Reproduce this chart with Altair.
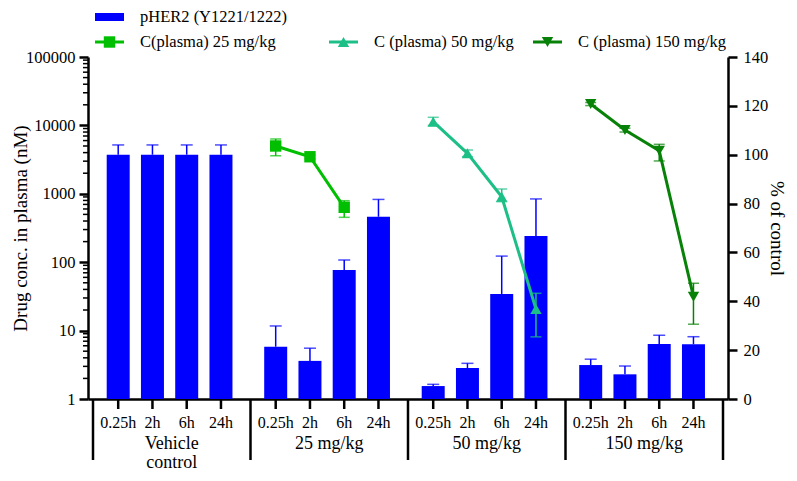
import altair as alt
import pandas as pd

FONT = "Liberation Serif"
W, H = 640, 342
BLUE = "#0000FF"

groups = ["Vehicle\ncontrol", "25 mg/kg", "50 mg/kg", "150 mg/kg"]
times = ["0.25h", "2h", "6h", "24h"]

# pHER2 (% of control), bars, upper SD
pher2_vehicle = [100, 100, 100, 100]
pher2_vehicle_err = [4, 4, 4, 4]
pher2_25 = [21.4, 15.6, 52.8, 74.6]
pher2_25_err = [8.5, 5.2, 4.1, 7.1]
pher2_50 = [5.3, 12.7, 43.0, 66.7]
pher2_50_err = [0.7, 1.9, 15.5, 15.2]
pher2_150 = [13.9, 10.1, 22.5, 22.4]
pher2_150_err = [2.4, 3.4, 3.6, 3.1]

# Plasma concentration (nM)
series_names = ["C(plasma) 25 mg/kg", "C (plasma) 50 mg/kg", "C (plasma) 150 mg/kg"]
series_colors = ["#00BF00", "#1CBF86", "#078107"]
series_shapes = ["square", "triangle-up", "triangle-down"]
conc_25 = [5000, 3480, 635]
conc_25_lo = [3600, 3250, 453]
conc_25_hi = [6330, 3700, 793]
conc_50 = [11330, 3910, 907, 20.7]
conc_50_lo = [10000, 3500, 767, 8.1]
conc_50_hi = [13130, 4370, 1175, 35.1]
conc_150 = [20550, 8570, 4270, 31.3]
conc_150_lo = [19500, 8000, 3020, 12.4]
conc_150_hi = [21600, 9100, 5290, 49.2]

log_major = [1, 10, 100, 1000, 10000, 100000]
log_minor = [k * 10 ** d for d in range(5) for k in range(2, 10)]
pct_ticks = [0, 20, 40, 60, 80, 100, 120, 140]

# ---- tables ----
bar_rows = []
for gi, (vals, errs) in enumerate([(pher2_vehicle, pher2_vehicle_err), (pher2_25, pher2_25_err),
                                   (pher2_50, pher2_50_err), (pher2_150, pher2_150_err)]):
    for ti, (v, e) in enumerate(zip(vals, errs)):
        bar_rows.append({"g": gi, "t": ti, "time": times[ti], "pct": v, "err": e})
bar_df = pd.DataFrame(bar_rows)

line_rows = []
for si, (vals, lo, hi) in enumerate([(conc_25, conc_25_lo, conc_25_hi), (conc_50, conc_50_lo, conc_50_hi),
                                     (conc_150, conc_150_lo, conc_150_hi)]):
    for ti, (v, l, h) in enumerate(zip(vals, lo, hi)):
        line_rows.append({"g": si + 1, "t": ti, "series": series_names[si], "conc": v, "lo": l, "hi": h})
line_df = pd.DataFrame(line_rows)

group_df = pd.DataFrame({"g": list(range(4)), "group": groups})
bound_df = pd.DataFrame({"b": list(range(5))})
minor_df = pd.DataFrame({"m": log_minor})

XPOS = "datum.g + 0.16 + 0.2175 * datum.t"


def xenc(field="xpos:Q"):
    return alt.X(field, scale=alt.Scale(domain=[0, 4], nice=False, zero=False),
                 axis=alt.Axis(labels=False, ticks=False, grid=False, title=None,
                               domainColor="black", domainWidth=2.5))


pct_scale = alt.Scale(domain=[0, 140], nice=False, zero=True)
conc_scale = alt.Scale(type="log", domain=[1, 100000], nice=False)

pct_axis = alt.Axis(orient="right", values=pct_ticks, tickSize=9, labelPadding=6, grid=False,
                    title="% of control", titleX=48, titleY=H / 2, titleBaseline="middle",
                    titleAngle=90, labelFontSize=16.5, titleFontSize=19)
conc_axis = alt.Axis(orient="left", values=log_major, format="d", tickSize=9, labelPadding=4,
                     grid=False, labelOverlap=False, title="Drug conc. in plasma (nM)",
                     titleX=-68, titleY=H / 2, titleBaseline="middle", titleAngle=270,
                     labelFontSize=16.5, titleFontSize=19)

# ---- bar group ----
bbase = alt.Chart(bar_df).transform_calculate(xpos=XPOS, top="datum.pct + datum.err")
bars = bbase.mark_bar(size=23, color=BLUE).encode(
    x=xenc(), y=alt.Y("pct:Q", scale=pct_scale, axis=pct_axis))
bar_err = bbase.mark_rule(color=BLUE, strokeWidth=1.5).encode(
    x=xenc(), y=alt.Y("pct:Q", scale=pct_scale), y2="top:Q")
bar_cap = bbase.mark_tick(color=BLUE, orient="horizontal", size=12, thickness=1.5).encode(
    x=xenc(), y=alt.Y("top:Q", scale=pct_scale))
xticks = bbase.mark_rule(color="black", strokeWidth=2.5).encode(
    x=xenc(), y=alt.value(H), y2=alt.value(H + 10))
xlabels = bbase.mark_text(font=FONT, fontSize=16, baseline="middle", align="center", color="black").encode(
    x=xenc(), y=alt.value(H + 24), text="time:N")
seps = alt.Chart(bound_df).mark_rule(color="black", strokeWidth=2.5).encode(
    x=xenc("b:Q"), y=alt.value(H), y2=alt.value(H + 61))
glabels = alt.Chart(group_df).transform_calculate(gx="datum.g + 0.5").mark_text(
    font=FONT, fontSize=18, baseline="top", align="center", lineBreak="\n", lineHeight=19,
    color="black").encode(x=xenc("gx:Q"), y=alt.value(H + 36), text="group:N")


def legend_entry(label, color, shape, x0, y0, rect=False):
    c = alt.Chart(pd.DataFrame({"label": [label]}))
    layers = []
    if rect:
        layers.append(c.mark_rect(color=color).encode(
            x=alt.value(x0), x2=alt.value(x0 + 29), y=alt.value(y0 - 4), y2=alt.value(y0 + 4)))
    else:
        layers.append(c.mark_rule(color=color, strokeWidth=3).encode(
            x=alt.value(x0), x2=alt.value(x0 + 29), y=alt.value(y0)))
        layers.append(c.mark_point(filled=True, shape=shape, size=130, color=color, opacity=1).encode(
            x=alt.value(x0 + 14.5), y=alt.value(y0)))
    layers.append(c.mark_text(font=FONT, fontSize=16.5, align="left", baseline="middle", color="black").encode(
        x=alt.value(x0 + 45), y=alt.value(y0), text="label:N"))
    return layers


legend_layers = []
legend_layers += legend_entry("pHER2 (Y1221/1222)", BLUE, None, 7, -40, rect=True)
legend_layers += legend_entry(series_names[0], series_colors[0], series_shapes[0], 7, -15)
legend_layers += legend_entry(series_names[1], series_colors[1], series_shapes[1], 241, -15)
legend_layers += legend_entry(series_names[2], series_colors[2], series_shapes[2], 445, -15)

bar_group = alt.layer(bars, bar_err, bar_cap, xticks, xlabels, seps, glabels, *legend_layers)

# ---- line group ----
color_enc = alt.Color("series:N", scale=alt.Scale(domain=series_names, range=series_colors), legend=None)
shape_enc = alt.Shape("series:N", scale=alt.Scale(domain=series_names, range=series_shapes), legend=None)
lbase = alt.Chart(line_df).transform_calculate(xpos=XPOS)
lines = lbase.mark_line(strokeWidth=3).encode(
    x=xenc(), y=alt.Y("conc:Q", scale=conc_scale, axis=conc_axis), color=color_enc, detail="series:N")
lerr = lbase.mark_rule(strokeWidth=1.5).encode(
    x=xenc(), y=alt.Y("lo:Q", scale=conc_scale), y2="hi:Q", color=color_enc)
lcap_lo = lbase.mark_tick(orient="horizontal", size=11, thickness=1.5).encode(
    x=xenc(), y=alt.Y("lo:Q", scale=conc_scale), color=color_enc)
lcap_hi = lbase.mark_tick(orient="horizontal", size=11, thickness=1.5).encode(
    x=xenc(), y=alt.Y("hi:Q", scale=conc_scale), color=color_enc)
pts = lbase.mark_point(filled=True, size=130, opacity=1).encode(
    x=xenc(), y=alt.Y("conc:Q", scale=conc_scale), color=color_enc, shape=shape_enc)
minor = alt.Chart(minor_df).mark_rule(color="black", strokeWidth=1.5).encode(
    x=alt.value(-5), x2=alt.value(0), y=alt.Y("m:Q", scale=conc_scale))

line_group = alt.layer(lines, lerr, lcap_lo, lcap_hi, pts, minor)

chart = alt.layer(bar_group, line_group).resolve_scale(y="independent").properties(
    width=W, height=H,
    padding={"left": 80, "top": 49, "right": 61, "bottom": 74},
    autosize=alt.AutoSizeParams(type="none"),
    background="white",
).configure_view(stroke=None).configure_axis(
    labelFont=FONT, titleFont=FONT, labelColor="black", titleColor="black",
    titleFontWeight="normal", domainColor="black", tickColor="black",
    domainWidth=2.5, tickWidth=2.5,
)

chart.save("out.html", embed_options={"renderer": "svg", "actions": False})
